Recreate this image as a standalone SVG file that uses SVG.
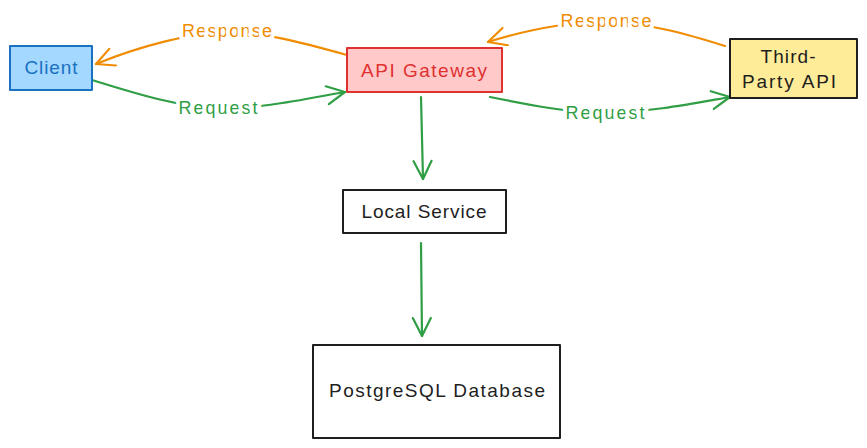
<svg xmlns="http://www.w3.org/2000/svg" width="867" height="448" viewBox="0 0 867 448">
<style>
text{font-family:"Liberation Sans",Arial,sans-serif;font-size:19px;text-anchor:middle;dominant-baseline:central}
.box{stroke-width:2;stroke-linejoin:round}
.c{fill:none;stroke-width:2.2;stroke-linecap:round}
.g{stroke:#2f9e44}
.o{stroke:#f08c00}
.lbl{font-size:18px;paint-order:stroke;stroke:#ffffff;stroke-width:8px;stroke-linejoin:round}
</style>
<defs>
<marker id="ag" markerUnits="userSpaceOnUse" markerWidth="30" markerHeight="30" refX="20" refY="10" orient="auto"><path d="M2,1 L20,10 L2,19" fill="none" stroke="#2f9e44" stroke-width="2.2" stroke-linecap="round" stroke-linejoin="round"/></marker>
<marker id="ao" markerUnits="userSpaceOnUse" markerWidth="30" markerHeight="30" refX="20" refY="10" orient="auto"><path d="M2,1 L20,10 L2,19" fill="none" stroke="#f08c00" stroke-width="2.2" stroke-linecap="round" stroke-linejoin="round"/></marker>
</defs>
<rect width="867" height="448" fill="#ffffff"/>
<g id="connectors">
<path class="c o" d="M347,55 C300,42 262,32 228,32 C190,33 140,46 96,64" marker-end="url(#ao)"/>
<path class="c g" d="M92,80 C140,95 180,107 218,108 C260,109 300,100 345,92" marker-end="url(#ag)"/>
<path class="c o" d="M725,46 C690,35 650,23 606,22 C560,22 520,32 488,42" marker-end="url(#ao)"/>
<path class="c g" d="M490,97 C530,105 570,113 605,113 C650,112 690,104 730,97" marker-end="url(#ag)"/>
<path class="c g" d="M421,97 L423,179" marker-end="url(#ag)"/>
<path class="c g" d="M421,243 L422,336" marker-end="url(#ag)"/>
<text class="lbl" x="227" y="31" fill="#f08c00" textLength="90">Response</text>
<text class="lbl" x="218" y="108" fill="#2f9e44" textLength="79">Request</text>
<text class="lbl" x="606" y="21" fill="#f08c00" textLength="91">Response</text>
<text class="lbl" x="605" y="113" fill="#2f9e44" textLength="79">Request</text>
</g>
<g id="client">
<rect class="box" x="10" y="46" width="82" height="44" fill="#a5d8ff" stroke="#1971c2"/>
<text x="51" y="67" fill="#1971c2" textLength="53">Client</text>
</g>
<g id="api-gateway">
<rect class="box" x="347" y="48" width="155" height="44" fill="#ffc9c9" stroke="#e03131"/>
<text x="424" y="70" fill="#e03131" textLength="126">API Gateway</text>
</g>
<g id="third-party-api">
<rect class="box" x="730" y="39" width="127" height="59" fill="#ffec99" stroke="#1e1e1e"/>
<text x="788" y="56" fill="#1e1e1e" textLength="55">Third-</text>
<text x="789" y="81" fill="#1e1e1e" textLength="94">Party API</text>
</g>
<g id="local-service">
<rect class="box" x="343" y="190" width="163" height="43" fill="#ffffff" stroke="#1e1e1e"/>
<text x="424" y="211" fill="#1e1e1e" textLength="125">Local Service</text>
</g>
<g id="postgresql-database">
<rect class="box" x="313" y="345" width="247" height="93" fill="#ffffff" stroke="#1e1e1e"/>
<text x="437" y="390" fill="#1e1e1e" textLength="216">PostgreSQL Database</text>
</g>
</svg>
